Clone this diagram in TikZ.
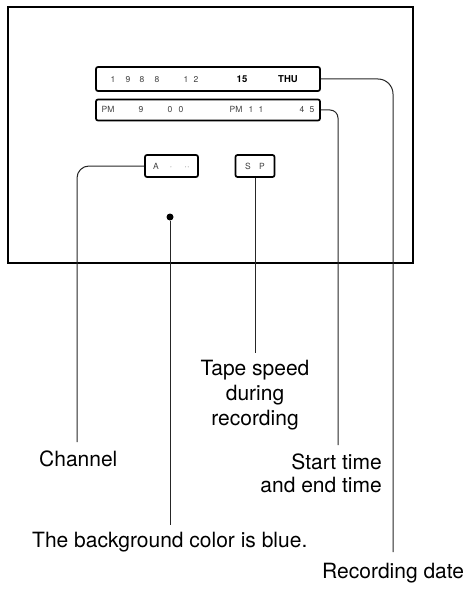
\documentclass[tikz,border=0pt]{standalone}
\usepackage{fontspec}
\setmainfont{TeX Gyre Heros}
\begin{document}
\begin{tikzpicture}[x=1pt,y=-1pt,
  screen/.style={draw, line width=1.3pt},
  disp/.style={draw, line width=1.7pt, rounded corners=2pt, inner sep=0pt},
  lbl/.style={font=\fontsize{21}{24}\selectfont, inner sep=0pt, anchor=base},
  tiny/.style={font=\fontsize{8.5}{9}\selectfont, inner sep=0pt, anchor=base, text=black!75},
  tinyb/.style={font=\bfseries\fontsize{9.5}{10}\selectfont, inner sep=0pt, anchor=base},
  conn/.style={line width=1pt, draw=black!85}]
\useasboundingbox (0,0) rectangle (474,591);
\draw[screen] (8,7) rectangle (413,263);

% display boxes
\node[disp, minimum width=224pt, minimum height=24pt] (date) at (208,79) {};
\node[disp, minimum width=224pt, minimum height=21pt] (time) at (208,110) {};
\node[disp, minimum width=53pt, minimum height=22pt] (chan) at (171.5,166) {};
\node[disp, minimum width=39pt, minimum height=22pt] (sp) at (255,166) {};
\node[circle, fill, inner sep=0pt, minimum size=7pt] (dot) at (170,217) {};

% display contents
\node[tiny] (d1) at (113,82.5) {1};
\node[tiny] (d2) at (128,82.5) {9};
\node[tiny] (d3) at (142,82.5) {8};
\node[tiny] (d4) at (157,82.5) {8};
\node[tiny] (d5) at (186,82.5) {1};
\node[tiny] (d6) at (196,82.5) {2};
\node[tinyb] (d7) at (242,82.5) {15};
\node[tinyb] (d8) at (288,82.5) {THU};

\node[tiny] (t1) at (108,113) {PM};
\node[tiny] (t2) at (141,113) {9};
\node[tiny] (t3) at (170,113) {0};
\node[tiny] (t4) at (181,113) {0};
\node[tiny] (t5) at (236,113) {PM};
\node[tiny] (t6) at (251,113) {1};
\node[tiny] (t7) at (261,113) {1};
\node[tiny] (t8) at (302,113) {4};
\node[tiny] (t9) at (312,113) {5};

\node[tiny] (c1) at (156,169) {A};
\node[tiny] (c2) at (171,169) {·};
\node[tiny] (c3) at (187,169) {··};
\node[tiny] (s1) at (248,169) {S};
\node[tiny] (s2) at (262,169) {P};

% free ends
\coordinate (dateend) at (393,552);
\coordinate (timeend) at (338,445);
\coordinate (chanend) at (77,442);
\coordinate (spend) at (255,353);
\coordinate (dotend) at (170,525);

% connectors
\draw[conn, rounded corners=15pt] (date.east) -- (dateend |- date.east) -- (dateend);
\draw[conn, rounded corners=8pt] (time.east) -- (timeend |- time.east) -- (timeend);
\draw[conn, rounded corners=12pt] (chan.west) -- (chanend |- chan.west) -- (chanend);
\draw[conn] (sp.south) -- (spend);
\draw[conn] (dot) -- (dotend);

% labels
\node[lbl, anchor=base west] (channel) at (39,466) {Channel};
\node[lbl] (tape1) at (255,375) {Tape speed};
\node[lbl] (tape2) at (255,400) {during};
\node[lbl] (tape3) at (255,425) {recording};
\node[lbl, anchor=base east] (start1) at (382,469) {Start time};
\node[lbl, anchor=base east] (start2) at (382,492) {and end time};
\node[lbl, anchor=base west] (bg) at (32,547) {The background color is blue.};
\node[lbl, anchor=base west] (rec) at (322,578) {Recording date};
\end{tikzpicture}
\end{document}
